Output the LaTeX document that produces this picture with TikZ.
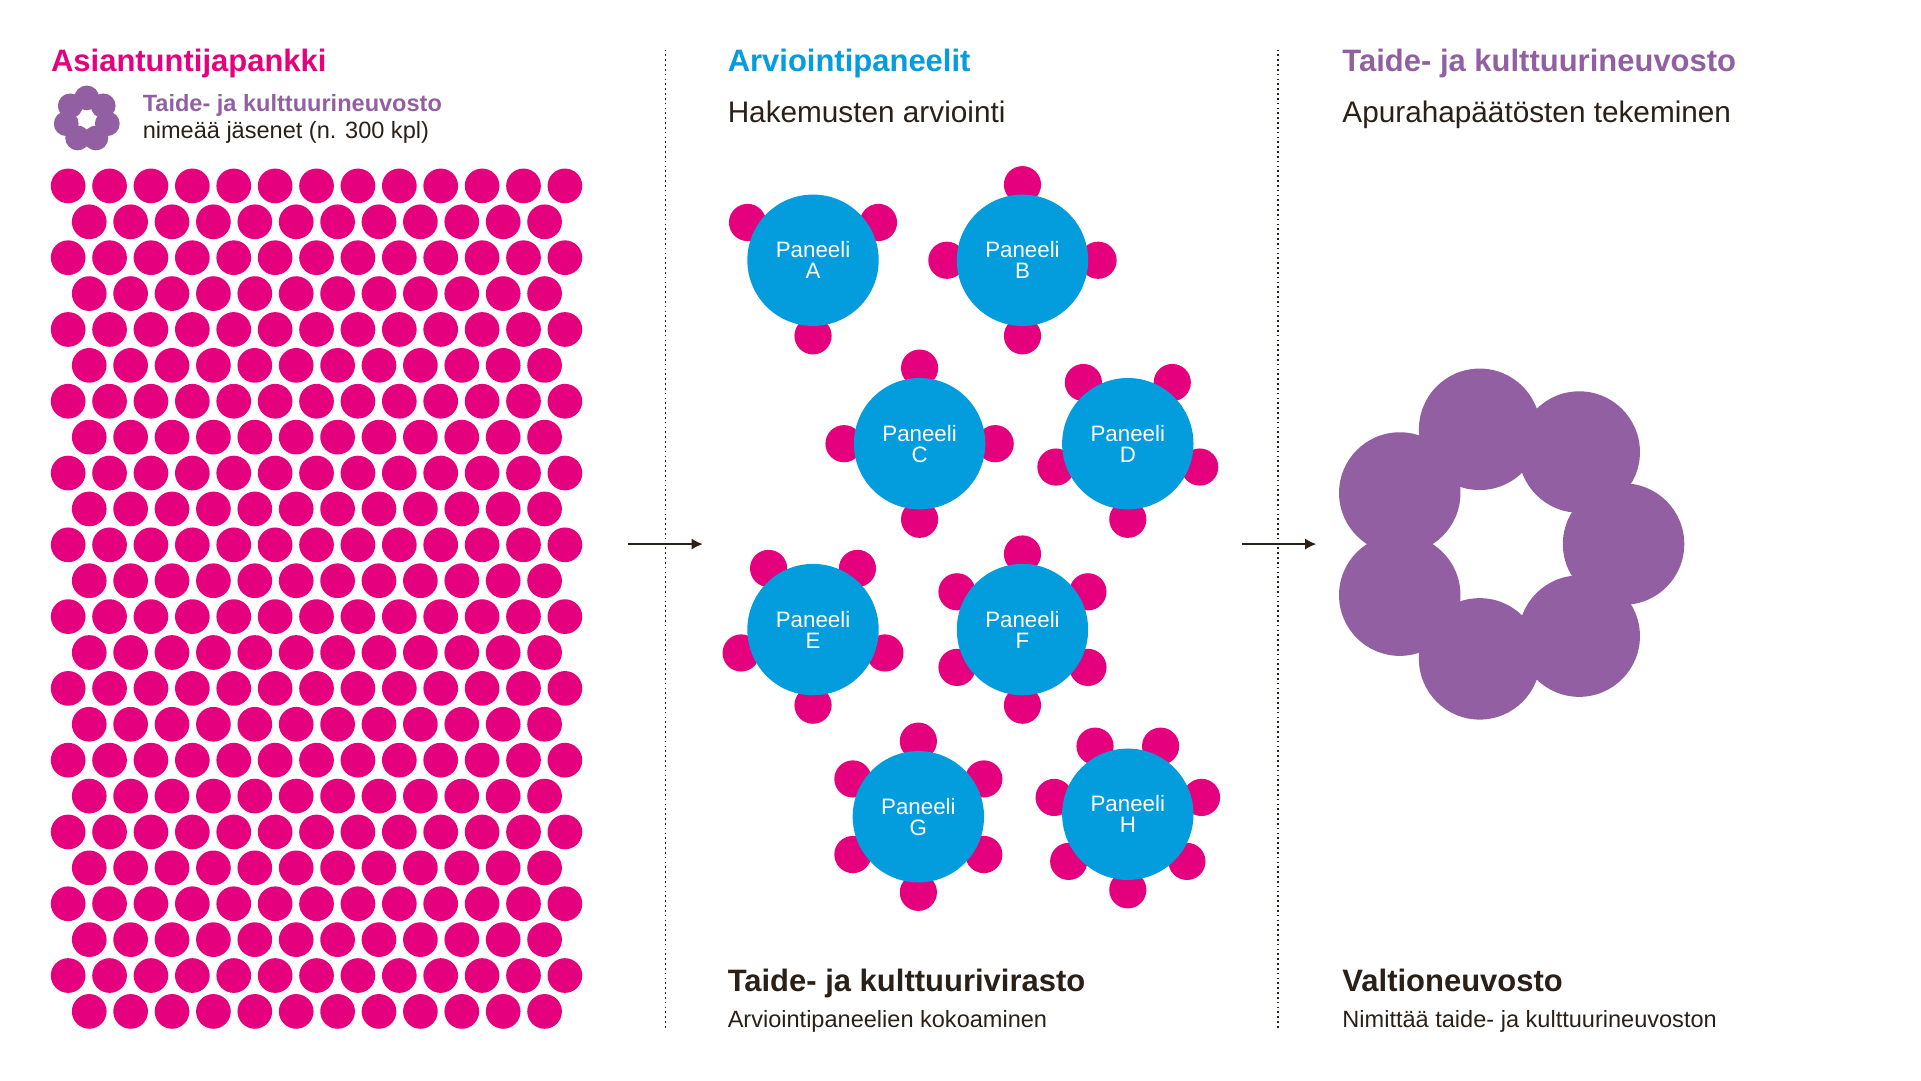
\documentclass[tikz,border=0pt]{standalone}
\usepackage{fontspec}
\setmainfont{Liberation Sans}
\usetikzlibrary{arrows.meta,calc}
\definecolor{pk}{HTML}{E5007E}
\definecolor{bl}{HTML}{039CDC}
\definecolor{pu}{HTML}{9260A2}
\definecolor{dk}{HTML}{2A2018}
\begin{document}
\begin{tikzpicture}[x=1pt,y=-1pt,
  dot/.style={fill=pk,circle,inner sep=0,minimum size=28},
  seat/.style={fill=pk,circle,inner sep=0,minimum size=30},
  table/.style={fill=bl,circle,inner sep=0,minimum size=106,text=white,align=center,font=\fontsize{18}{17}\selectfont},
  petal/.style={fill=pu,circle,inner sep=0,minimum size=98},
  mpetal/.style={fill=pu,circle,inner sep=0,minimum size=20},
  sep/.style={dk,line width=1.3pt,dash pattern=on 1.3pt off 2.6pt},
  arr/.style={dk,line width=1.2pt,-{Latex[length=9,width=9]}},
  head/.style={anchor=base west,inner sep=0,font=\fontsize{25}{25}\selectfont\bfseries},
  sub/.style={anchor=base west,inner sep=0,font=\fontsize{24}{24}\selectfont,text=dk},
  small/.style={anchor=base west,inner sep=0,font=\fontsize{19}{19}\selectfont,text=dk}]
\useasboundingbox (0,0) rectangle (1550,872);
% dots
\foreach \r in {0,...,23}{
  \pgfmathsetmacro\yy{150+28.96*\r}
  \ifodd\r
    \foreach \c in {0,...,11}{\node[dot] (d\r-\c) at ({72+33.4*\c},\yy) {};}
  \else
    \foreach \c in {0,...,12}{\node[dot] (d\r-\c) at ({55+33.4*\c},\yy) {};}
  \fi}
% separators
\coordinate (s1t) at (537,40); \coordinate (s1b) at (537,830);
\coordinate (s2t) at (1031,40); \coordinate (s2b) at (1031,830);
\draw[sep] (s1t) -- (s1b);
\draw[sep] (s2t) -- (s2b);
\coordinate (a1s) at (507,439); \coordinate (a1e) at (567,439);
\coordinate (a2s) at (1002,439); \coordinate (a2e) at (1062,439);
\draw[arr] (a1s) -- (a1e);
\draw[arr] (a2s) -- (a2e);
% texts
\node[head,text=pk] (t1) at (41,58) {Asiantuntijapankki};
\node[small,font=\fontsize{19}{19}\selectfont\bfseries,text=pu] (t2) at (115,90) {Taide- ja kulttuurineuvosto};
\node[small] (t3) at (115,112) {nimeää jäsenet (n. 300 kpl)};
\node[head,text=bl] (t4) at (587,58) {Arviointipaneelit};
\node[sub] (t5) at (587,99) {Hakemusten arviointi};
\node[head,text=pu] (t6) at (1083,58) {Taide- ja kulttuurineuvosto};
\node[sub] (t7) at (1083,99) {Apurahapäätösten tekeminen};
\node[head,text=dk] (t8) at (587,800) {Taide- ja kulttuurivirasto};
\node[small] (t9) at (587,829) {Arviointipaneelien kokoaminen};
\node[head,text=dk] (t10) at (1083,800) {Valtioneuvosto};
\node[small] (t11) at (1083,829) {Nimittää taide- ja kulttuurineuvoston};
% mini flower
\foreach \k in {0,...,6}{\node[mpetal] (m\k) at ($(70,96)+({90+51.43*\k}:-17)$) {};}
% panels
\def\panel#1#2#3#4#5{%
  \foreach \k in {1,...,#4}{\node[seat] (#1s\k) at ($(#2,#3)+({#5+360/#4*\k}:-61)$) {};}
  \node[table] (#1) at (#2,#3) {Paneeli\\#1};}
\panel{A}{656}{210}{3}{-90}
\panel{B}{825}{210}{4}{0}
\panel{C}{742}{358}{4}{0}
\panel{D}{910}{358}{5}{-90}
\panel{E}{656}{508}{5}{-90}
\panel{F}{825}{508}{6}{-90}
\panel{G}{741}{659}{6}{-90}
\panel{H}{910}{657}{7}{-90}
% big flower
\foreach \k in {0,...,6}{\node[petal] (p\k) at ($(1215,439)+({51.43*\k}:95)$) {};}
\end{tikzpicture}
\end{document}
